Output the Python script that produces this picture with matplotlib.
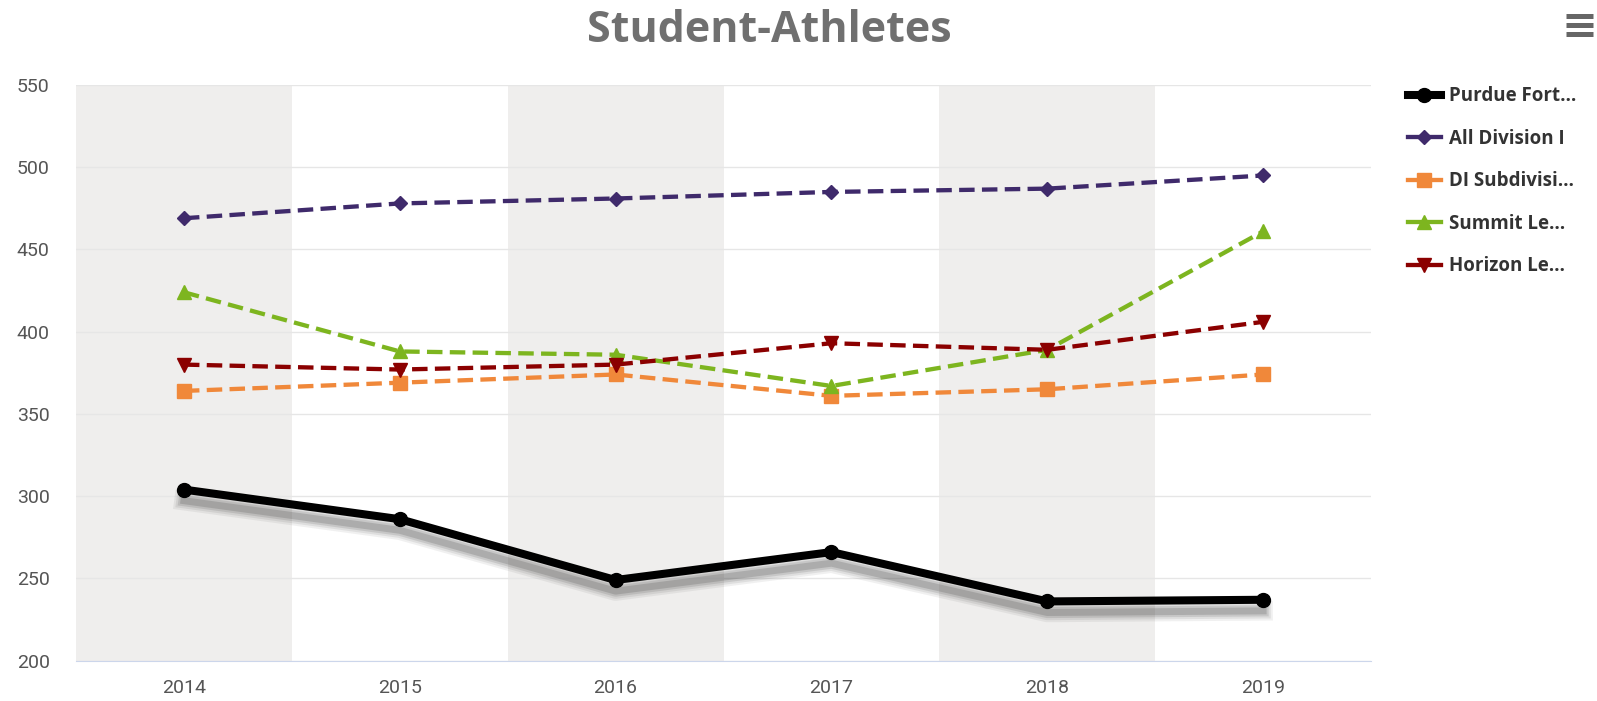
import numpy as np
import matplotlib.pyplot as plt
import matplotlib.patheffects as pe
from matplotlib.lines import Line2D

# data
years = ['2014', '2015', '2016', '2017', '2018', '2019']
purdue = [304, 286, 249, 266, 236, 237]
all_d1 = [469, 478, 481, 485, 487, 495]
d1_sub = [364, 369, 374, 361, 365, 374]
summit = [424, 388, 386, 367, 389, 461]
horizon = [380, 377, 380, 393, 389, 406]

labels = ['Purdue Fort…', 'All Division I', 'DI Subdivisi…', 'Summit Le…', 'Horizon Le…']

plt.rcParams['font.family'] = ['Roboto', 'DejaVu Sans']

fig = plt.figure(figsize=(15.97, 7.01), dpi=100)
ax = fig.add_axes([0.0476, 0.0576, 0.8109, 0.8211])

x = np.arange(len(years))
dash = (0, (3.6, 1.7))

# alternating bands
for i in range(0, len(years), 2):
    ax.axvspan(i - 0.5, i + 0.5, color='#efeeed', lw=0, zorder=0)

# soft shadow under the black line (layered to look blurred)
shadow = [pe.SimpleLineShadow(offset=(0, -8), shadow_color='#333333', alpha=a, linewidth=w)
          for w, a in [(14, 0.07), (11, 0.09), (8, 0.13), (5, 0.18)]]
ax.plot(x, purdue, color='black', lw=5.8, zorder=5, solid_joinstyle='round',
        path_effects=shadow + [pe.Normal()])
ax.plot(x, purdue, color='black', lw=0, marker='o', ms=10, zorder=6)

ax.plot(x, all_d1, color='#3f2a6b', lw=3.1, ls=dash, marker='D', ms=7.5, zorder=4)
ax.plot(x, d1_sub, color='#f0883a', lw=3.1, ls=dash, marker='s', ms=10, zorder=4)
ax.plot(x, summit, color='#7db51f', lw=3.1, ls=dash, marker='^', ms=10.5, zorder=4)
ax.plot(x, horizon, color='#8b0000', lw=3.1, ls=dash, marker='v', ms=10.5, zorder=4)

ax.set_xlim(-0.5, len(years) - 0.5)
ax.set_ylim(200, 550)
ax.set_yticks(np.arange(200, 551, 50))
ax.set_xticks(x)
ax.set_xticklabels(years)
ax.yaxis.grid(True, color='#e6e6e6', lw=1)
ax.set_axisbelow(True)
for s in ['left', 'right', 'top']:
    ax.spines[s].set_visible(False)
ax.spines['bottom'].set_color('#ccd6eb')
ax.tick_params(axis='both', length=0, labelsize=14, colors='#555555')
ax.tick_params(axis='y', pad=19)
ax.tick_params(axis='x', pad=13)

# legend
handles = [
    Line2D([], [], color='black', lw=5.8, marker='o', ms=10),
    Line2D([], [], color='#3f2a6b', lw=3.1, marker='D', ms=7.5),
    Line2D([], [], color='#f0883a', lw=3.1, marker='s', ms=10),
    Line2D([], [], color='#7db51f', lw=3.1, marker='^', ms=10.5),
    Line2D([], [], color='#8b0000', lw=3.1, marker='v', ms=10.5),
]
leg = fig.legend(handles, labels, loc='upper left', bbox_to_anchor=(0.871, 0.901),
                 frameon=False, handlelength=1.75, handletextpad=0.45, labelspacing=1.2,
                 numpoints=1, prop={'family': 'Open Sans', 'weight': 'bold', 'size': 13.5})
for t in leg.get_texts():
    t.set_color('#333333')

fig.text(0.482, 0.957, 'Student-Athletes', ha='center', va='center', fontsize=31,
         fontweight='bold', color='#707070', family='Open Sans')

# menu icon
for yy in (0.951, 0.9643, 0.9776):
    fig.add_artist(Line2D([0.9805, 0.9975], [yy, yy], color='#666666', lw=3.6,
                          solid_capstyle='butt', transform=fig.transFigure))

fig.savefig('out.png', dpi=100)
